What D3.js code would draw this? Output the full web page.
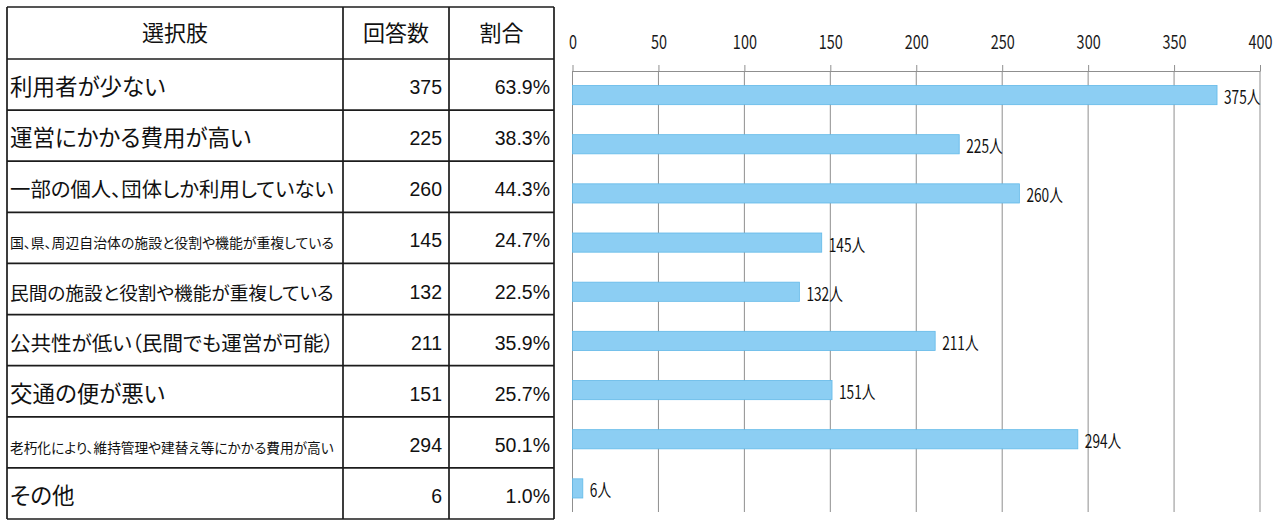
<!DOCTYPE html>
<html lang="ja">
<head>
<meta charset="utf-8">
<script src="https://cdn.jsdelivr.net/npm/d3@7"></script>
<style>
  html, body { margin: 0; padding: 0; background: #fff; }
  svg { display: block; }
  .jp { font-family: "Noto Sans CJK JP", sans-serif; font-feature-settings: "palt"; }
  .num { font-family: "Liberation Sans", Arial, sans-serif; }
  .narrow { font-family: "Liberation Sans Narrow", "Noto Sans CJK JP", sans-serif; }
</style>
</head>
<body>
<svg id="chart" width="1278" height="520"></svg>
<script>
// Survey answers: options, number of respondents and share
const options = [
  "利用者が少ない",
  "運営にかかる費用が高い",
  "一部の個人、団体しか利用していない",
  "国、県、周辺自治体の施設と役割や機能が重複している",
  "民間の施設と役割や機能が重複している",
  "公共性が低い（民間でも運営が可能）",
  "交通の便が悪い",
  "老朽化により、維持管理や建替え等にかかる費用が高い",
  "その他"
];
const counts = [375, 225, 260, 145, 132, 211, 151, 294, 6];
const shares = [63.9, 38.3, 44.3, 24.7, 22.5, 35.9, 25.7, 50.1, 1.0];
const headers = ["選択肢", "回答数", "割合"];
const xTicks = [0, 50, 100, 150, 200, 250, 300, 350, 400];
const unit = "人";

const svg = d3.select("#chart");
const idx = d3.range(options.length);

// ---------- table ----------
const colEdges = [7, 343, 449, 554];
const tableTop = 7, headBottom = 59, tableBottom = 519;
const rowY = d3.scaleBand().domain(idx).range([headBottom, tableBottom]);

const table = svg.append("g");
const lineColor = "#1c1c1c";

// horizontal rules
const hRules = [tableTop, headBottom].concat(idx.map(i => rowY(i) + rowY.bandwidth()));
table.selectAll("line.h").data(hRules).join("line")
  .attr("x1", colEdges[0]).attr("x2", colEdges[3])
  .attr("y1", d => d).attr("y2", d => d)
  .attr("stroke", lineColor).attr("stroke-width", 1.7);
// vertical rules
table.selectAll("line.v").data(colEdges).join("line")
  .attr("x1", d => d).attr("x2", d => d)
  .attr("y1", tableTop).attr("y2", tableBottom)
  .attr("stroke", lineColor).attr("stroke-width", 1.7);

// header cells
table.selectAll("text.head").data(headers).join("text")
  .attr("class", "jp")
  .attr("x", (d, i) => (colEdges[i] + colEdges[i + 1]) / 2)
  .attr("y", (tableTop + headBottom) / 2 + 8)
  .attr("text-anchor", "middle")
  .attr("font-size", 22)
  .attr("fill", "#111")
  .text(d => d);

// option labels, shrunk to fit the first column
const maxLabel = 22.5, labelRoom = 324;
table.selectAll("text.opt").data(idx).join("text")
  .attr("class", "jp")
  .attr("x", colEdges[0] + 3)
  .attr("y", i => rowY(i) + rowY.bandwidth() - 15)
  .attr("font-size", maxLabel)
  .attr("fill", "#111")
  .text(i => options[i])
  .each(function () {
    const w = this.getComputedTextLength();
    if (w > labelRoom) d3.select(this).attr("font-size", maxLabel * labelRoom / w);
  });

// counts and shares
table.selectAll("text.cnt").data(idx).join("text")
  .attr("class", "num")
  .attr("x", colEdges[2] - 7)
  .attr("y", i => rowY(i) + rowY.bandwidth() - 16)
  .attr("text-anchor", "end")
  .attr("font-size", 19.5)
  .attr("fill", "#111")
  .text(i => counts[i]);

table.selectAll("text.shr").data(idx).join("text")
  .attr("class", "num")
  .attr("x", colEdges[3] - 4)
  .attr("y", i => rowY(i) + rowY.bandwidth() - 16)
  .attr("text-anchor", "end")
  .attr("font-size", 19.5)
  .attr("fill", "#111")
  .text(i => shares[i].toFixed(1) + "%");

// ---------- bar chart ----------
const axisY = 71, gridBottom = 512;
const x = d3.scaleLinear().domain([0, 400]).range([572.5, 1260]);
const y = d3.scaleBand().domain(idx).range([70.5, 513]).paddingInner(0.61).paddingOuter(0.305);

const chart = svg.append("g");

// vertical gridlines
chart.selectAll("line.grid").data(xTicks).join("line")
  .attr("x1", d => x(d)).attr("x2", d => x(d))
  .attr("y1", axisY).attr("y2", gridBottom)
  .attr("stroke", "#8f8f8f").attr("stroke-width", 1);

// top axis
const axis = chart.append("g")
  .attr("transform", `translate(0,${axisY})`)
  .call(d3.axisTop(x).tickValues(xTicks).tickSizeInner(6).tickSizeOuter(0).tickPadding(16));
axis.select(".domain").attr("stroke", "#8f8f8f");
axis.selectAll(".tick line").attr("stroke", "#8f8f8f");
axis.selectAll(".tick text")
  .attr("class", "narrow")
  .attr("font-size", 19)
  .attr("fill", "#1a1a1a")
  .attr("transform", "scale(0.76,1)");

// bars
chart.selectAll("rect.bar").data(idx).join("rect")
  .attr("x", x(0))
  .attr("y", i => y(i))
  .attr("width", i => x(counts[i]) - x(0))
  .attr("height", y.bandwidth())
  .attr("fill", "#8ccef3")
  .attr("stroke", "#62b9e8")
  .attr("stroke-width", 0.8);

// value labels
chart.selectAll("text.val").data(idx).join("text")
  .attr("class", "narrow")
  .attr("transform", i => `translate(${x(counts[i]) + 7},${y(i) + y.bandwidth() / 2 + 9}) scale(0.76,1)`)
  .attr("font-size", 18)
  .attr("fill", "#111")
  .text(i => counts[i] + unit);
</script>
</body>
</html>
